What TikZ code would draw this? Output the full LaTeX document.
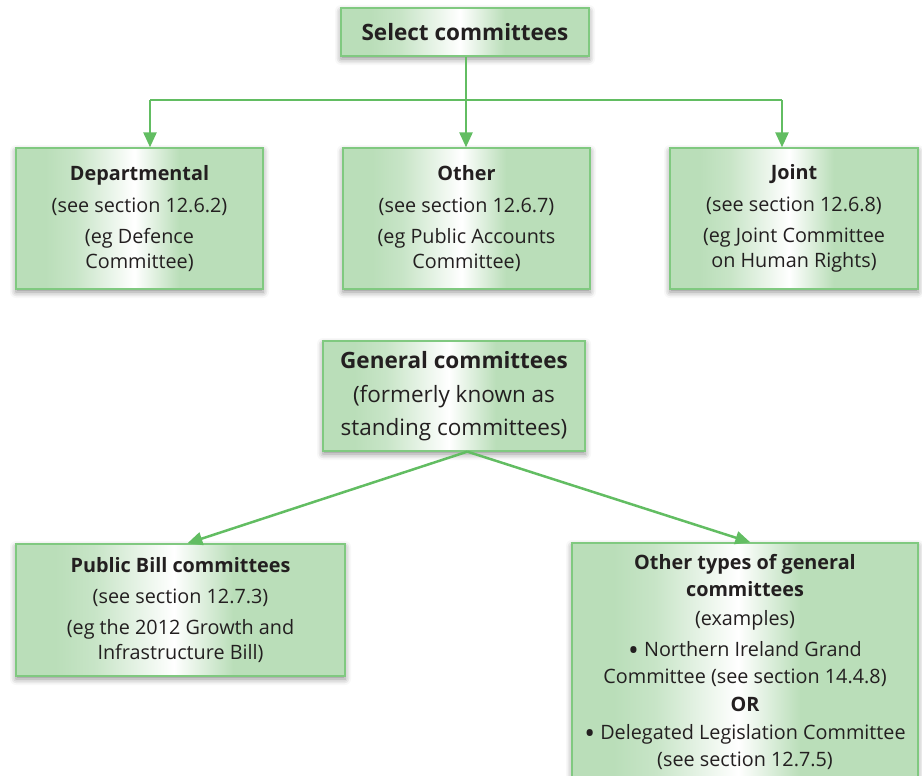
\documentclass[tikz,border=0pt]{standalone}
\usepackage{fontspec}
\setmainfont{Open Sans}
\usetikzlibrary{arrows.meta,shadows.blur,calc}

\definecolor{boxgreen}{RGB}{186,222,185}
\definecolor{edgegreen}{RGB}{128,201,128}
\definecolor{linkgreen}{RGB}{98,189,98}
\definecolor{inkgrey}{RGB}{35,31,32}

% green at the edges, a white band just left of the middle
\pgfdeclarehorizontalshading{boxshade}{100bp}{%
  color(0bp)=(boxgreen); color(31bp)=(boxgreen); color(37bp)=(boxgreen!80!white);
  color(49bp)=(white); color(58bp)=(boxgreen); color(100bp)=(boxgreen)}

% a rounder, heavier list bullet
\newcommand{\listdot}{\raisebox{-0.2em}{\scalebox{1.45}{•}}}

\tikzset{
  panel/.style={draw=edgegreen, line width=1.3pt, shading=boxshade,
    align=center, inner sep=0pt, text=inkgrey,
    blur shadow={shadow xshift=0pt, shadow yshift=-3pt,
      shadow blur radius=6pt, shadow opacity=45}},
  link/.style={draw=linkgreen, line width=2.5pt,
    -{Triangle[width=13pt,length=15pt]}},
  bus/.style={draw=linkgreen, line width=2.5pt},
  body/.style={font=\fontsize{19.8}{25}\selectfont},
  bigbody/.style={font=\fontsize{22.5}{32.5}\selectfont},
}

\begin{document}
\begin{tikzpicture}[x=1pt,y=-1pt]
\useasboundingbox (0,0) rectangle (922,776);

% select committees and its three kinds
\node[panel, minimum width=248, minimum height=48, bigbody] (sel) at (465,32)
  {\bfseries Select committees};

\node[panel, minimum width=247, minimum height=141, body] (dep) at (139.5,218.5)
  {\textbf{Departmental}\\[6.5pt](see section 12.6.2)\\[6pt](eg Defence\\Committee)};
\node[panel, minimum width=247, minimum height=141, body] (oth) at (466.5,218.5)
  {\textbf{Other}\\[6.5pt](see section 12.6.7)\\[6pt](eg Public Accounts\\Committee)};
\node[panel, minimum width=248, minimum height=141, body] (joi) at (794,218.5)
  {\textbf{Joint}\\[6.5pt](see section 12.6.8)\\[6pt](eg Joint Committee\\on Human Rights)};

% general committees and its two kinds
\node[panel, minimum width=262, minimum height=110, bigbody] (gen) at (454,396)
  {\bfseries General committees\\[1.5pt]\mdseries(formerly known as\\standing committees)};

\node[panel, minimum width=329, minimum height=132, body] (pub) at (180.5,610)
  {\textbf{Public Bill committees}\\[6.5pt](see section 12.7.3)\\[6pt](eg the 2012 Growth and\\Infrastructure Bill)};

\node[panel, minimum width=346, minimum height=238, font=\fontsize{19.8}{27}\selectfont] (gty) at (745,662)
  {\textbf{Other types of general}\\\textbf{committees}\\[2pt](examples)\\[4pt]%
   \listdot\ Northern Ireland Grand\\Committee (see section 14.4.8)\\[1pt]\textbf{OR}\\[1pt]%
   \listdot\ Delegated Legislation Committee\\(see section 12.7.5)};

% connectors from select committees
\coordinate (busL) at (150,100);
\coordinate (busM) at (466,100);
\coordinate (busR) at (782,100);
\draw[bus] (sel.south -| busM) -- (busM);
\draw[bus] (busL) -- (busR);
\draw[link] (busL) -- (busL |- dep.north);
\draw[link] (busM) -- (busM |- oth.north);
\draw[link] (busR) -- (busR |- joi.north);

% connectors from general committees
\coordinate (genout) at ($(gen.south west)+(145,0)$);
\draw[link] (genout) -- ($(pub.north west)+(172,0)$);
\draw[link] (genout) -- ($(gty.north west)+(179,0)$);
\end{tikzpicture}
\end{document}
